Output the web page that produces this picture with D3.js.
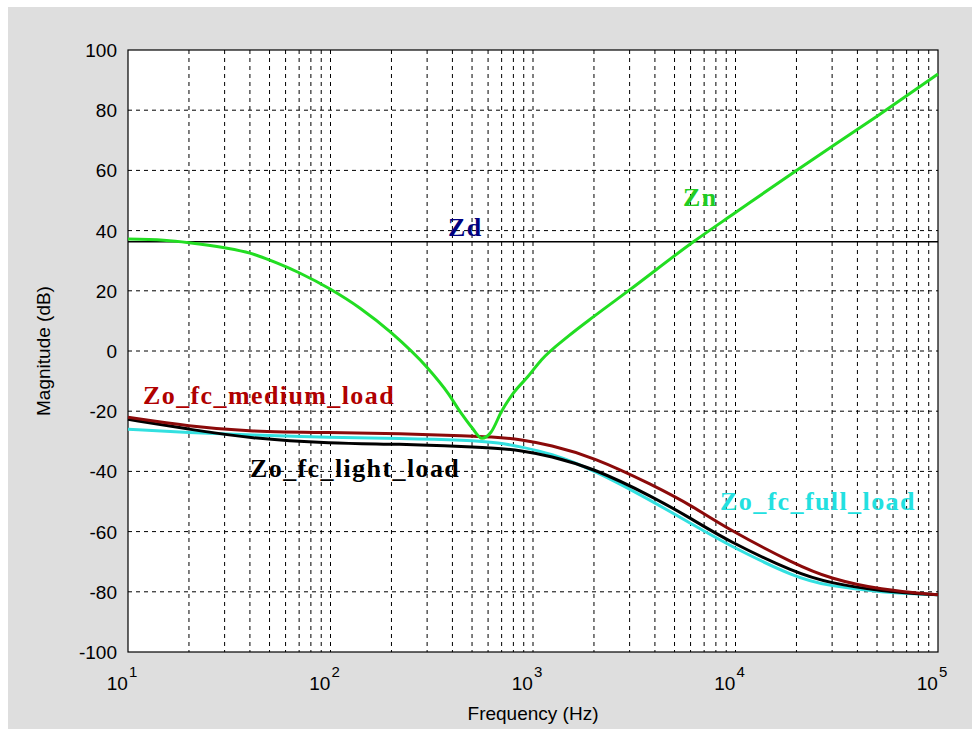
<!DOCTYPE html>
<html>
<head>
<meta charset="utf-8">
<script src="https://cdn.jsdelivr.net/npm/d3@7"></script>
<style>
  body { margin: 0; background: #fff; }
  #chart { width: 972px; height: 729px; }
</style>
</head>
<body>
<div id="chart"></div>
<script>
// Zd: flat line
const zdLevel = 36.3;

// Zn (notch near 560 Hz)
const znFreq = [10, 15, 20, 30, 40, 55, 70, 100, 140, 200, 300, 380, 440, 500, 560, 620, 700, 800, 944, 1100, 1500, 2000, 3000, 6200, 10000, 20000, 50000, 100000];
const znMag = [37.2, 36.8, 36, 34.3, 32.5, 29.1, 26, 20.5, 14.2, 6, -5.5, -14, -20.5, -25.5, -29, -27, -20, -14, -8.5, -3, 5, 11.5, 20.3, 36.3, 46, 60, 78, 92];

// output impedance curves
const zoFreq = [10, 20, 40, 100, 220, 470, 690, 860, 1210, 2000, 3900, 6200, 9000, 20000, 29000, 52000, 100000];
const zoMedium = [-22, -25, -26.8, -27.1, -27.4, -28.2, -28.7, -29.4, -31.2, -35.3, -44.5, -51.7, -58.9, -71.1, -75.5, -79.4, -81];
const zoLight = [-22.7, -26, -29, -30.7, -30.9, -31.8, -32.4, -33, -34.8, -39, -48.4, -56.1, -62.8, -73.9, -77, -79.8, -81];
const zoFull = [-26, -27.1, -27.9, -28.7, -29, -29.6, -30.5, -31.8, -33.9, -39.5, -50, -57.8, -64.1, -75.5, -78, -80.2, -81];

const yTicks = [-100, -80, -60, -40, -20, 0, 20, 40, 60, 80, 100];
const xDecades = [1, 2, 3, 4, 5];

const margin = { top: 50, left: 128, right: 34, bottom: 77 };
const W = 972, H = 729;
const width = W - margin.left - margin.right;
const height = H - margin.top - margin.bottom;

const svg = d3.select("#chart").append("svg")
    .attr("width", W)
    .attr("height", H);

svg.append("rect")
    .attr("x", 8).attr("y", 7)
    .attr("width", W - 8).attr("height", H - 7)
    .attr("fill", "#dedede");

const g = svg.append("g")
    .attr("transform", `translate(${margin.left},${margin.top})`);

const x = d3.scaleLog().domain([10, 100000]).range([0, width]);
const y = d3.scaleLinear().domain([-100, 100]).range([height, 0]);

g.append("rect")
    .attr("width", width).attr("height", height)
    .attr("fill", "#fff");

// grid
const minorX = [];
for (let e = 1; e < 5; e++) {
    for (let k = 1; k <= 9; k++) minorX.push(k * Math.pow(10, e));
}

g.append("g").selectAll("line")
    .data(minorX.filter(d => d > 10))
    .join("line")
    .attr("x1", d => x(d)).attr("x2", d => x(d))
    .attr("y1", 0).attr("y2", height)
    .attr("stroke", "#000")
    .attr("stroke-width", 1)
    .attr("stroke-dasharray", "4 4");

g.append("g").selectAll("line")
    .data(yTicks.filter(d => d > -100 && d < 100))
    .join("line")
    .attr("x1", 0).attr("x2", width)
    .attr("y1", d => y(d)).attr("y2", d => y(d))
    .attr("stroke", "#000")
    .attr("stroke-width", 1)
    .attr("stroke-dasharray", "4 4");

// frame
g.append("rect")
    .attr("width", width).attr("height", height)
    .attr("fill", "none")
    .attr("stroke", "#000")
    .attr("stroke-width", 1.2);

// y tick labels
g.append("g").selectAll("text")
    .data(yTicks)
    .join("text")
    .attr("x", -11)
    .attr("y", d => y(d) + 7)
    .attr("text-anchor", "end")
    .attr("font-family", "Liberation Sans, Arial, sans-serif")
    .attr("font-size", 19)
    .text(d => d);

// x tick labels with exponents
const xl = g.append("g").selectAll("text")
    .data(xDecades)
    .join("text")
    .attr("x", d => x(Math.pow(10, d)) - 6)
    .attr("y", height + 38)
    .attr("text-anchor", "middle")
    .attr("font-family", "Liberation Sans, Arial, sans-serif")
    .attr("font-size", 19);
xl.append("tspan").text("10");
xl.append("tspan")
    .attr("dx", 1)
    .attr("dy", -13)
    .attr("font-size", 15)
    .text(d => d);

// axis titles
svg.append("text")
    .attr("x", 533).attr("y", 720)
    .attr("text-anchor", "middle")
    .attr("font-family", "Liberation Sans, Arial, sans-serif")
    .attr("font-size", 19)
    .text("Frequency (Hz)");

svg.append("text")
    .attr("transform", "translate(50,351) rotate(-90)")
    .attr("text-anchor", "middle")
    .attr("font-family", "Liberation Sans, Arial, sans-serif")
    .attr("font-size", 19)
    .text("Magnitude (dB)");

// curves
const znLine = d3.line()
    .x(d => x(d[0]))
    .y(d => y(d[1]))
    .curve(d3.curveMonotoneX);

const zoLine = d3.line()
    .x(d => x(d[0]))
    .y(d => y(d[1]))
    .curve(d3.curveBasis);

const plot = g.append("g");

plot.append("line")
    .attr("x1", 0).attr("x2", width)
    .attr("y1", y(zdLevel)).attr("y2", y(zdLevel))
    .attr("stroke", "#000")
    .attr("stroke-width", 1.5);

const series = [
    { vals: zoFull, color: "#33e0e0" },
    { vals: zoLight, color: "#000000" },
    { vals: zoMedium, color: "#8b0a0a" },
];
series.forEach(s => {
    plot.append("path")
        .attr("d", zoLine(zoFreq.map((f, i) => [f, s.vals[i]])))
        .attr("fill", "none")
        .attr("stroke", s.color)
        .attr("stroke-width", 3);
});

plot.append("path")
    .attr("d", znLine(znFreq.map((f, i) => [f, znMag[i]])))
    .attr("fill", "none")
    .attr("stroke", "#22dd22")
    .attr("stroke-width", 3);

// labels
const labels = [
    { text: "Zd", x: 448, y: 236, color: "#000080" },
    { text: "Zn", x: 683, y: 206, color: "#22cc22" },
    { text: "Zo_fc_medium_load", x: 143, y: 404, color: "#b00000" },
    { text: "Zo_fc_light_load", x: 250, y: 477, color: "#000000" },
    { text: "Zo_fc_full_load", x: 720, y: 510, color: "#22e0e0" },
];
svg.append("g").selectAll("text")
    .data(labels)
    .join("text")
    .attr("x", d => d.x)
    .attr("y", d => d.y)
    .attr("fill", d => d.color)
    .attr("font-family", "Liberation Serif, Times New Roman, serif")
    .attr("font-weight", "bold")
    .attr("font-size", 26)
    .attr("letter-spacing", 1.4)
    .text(d => d.text);
</script>
</body>
</html>
